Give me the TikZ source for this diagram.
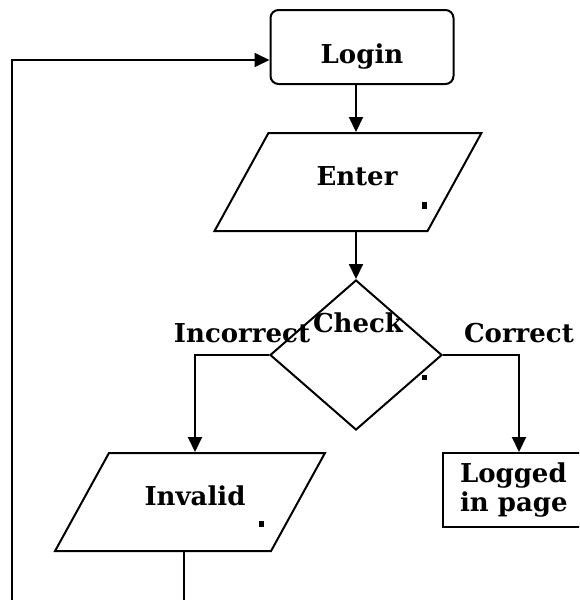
\documentclass[tikz,border=0pt]{standalone}
\usepackage{fontspec}
\setmainfont{DejaVu Serif}
\usetikzlibrary{shapes.geometric, positioning, arrows.meta}

\begin{document}
\begin{tikzpicture}[x=1pt, y=-1pt, line width=2pt,
	>={Triangle[length=15pt, width=14pt]},
	every node/.style={font=\fontsize{26}{29}\selectfont\bfseries, inner sep=0pt},
	box/.style={draw, rectangle},
	io/.style={draw, rectangle, xslant=0.55, transform shape, minimum height=98pt},
	test/.style={draw, diamond, minimum width=172pt, minimum height=150pt}]
	\useasboundingbox (0,0) rectangle (579,600);
	\clip (0,0) rectangle (579,600);
	\node (login) [box, rounded corners=8pt, minimum width=183pt, minimum height=74pt] at (362,47) {};
	\node (loginTxt) [anchor=base] at (362,63) {Login};
	\node (enter) [io, minimum width=213pt] at (348,182) {};
	\node (enterTxt) [anchor=base] at (357,185) {Enter};
	\node (check) [test] at (356,355) {};
	\node (checkTxt) [anchor=base] at (358,332) {Check};
	\node (no) [anchor=base] at (242,342) {Incorrect};
	\node (yes) [anchor=base west] at (463,342) {Correct};
	\node (invalid) [io, minimum width=216pt] at (190,502) {};
	\node (invalidTxt) [anchor=base] at (195,505) {Invalid};
	\node (logged) [box, minimum width=152pt, minimum height=74pt] at (519,490) {};
	\node (loggedTxt) [anchor=north west, align=left] at (459,462) {Logged\\in page};
	% cut off second lines
	\fill (422,202) rectangle (427,209);
	\fill (422,375) rectangle (427,380);
	\fill (259,521) rectangle (264,527);
	\coordinate (col) at (356,0);
	\coordinate (invIn) at (195,0);
	\coordinate (invOut) at (184,600);
	\coordinate (loopBot) at (12,600);
	\coordinate (loopTop) at (12,60);
	\path[->]
		(login.south -| col) edge (enter.north -| col)
		(enter.south -| col) edge (check.north)
	;
	\draw[->] (check.west) -| (invalid.north -| invIn);
	\draw[->] (check.east) -| (logged.north);
	\draw (invalid.south -| invOut) -- (invOut);
	\draw[->] (loopBot) -- (loopTop) -- (loopTop -| login.west);
\end{tikzpicture}
\end{document}
